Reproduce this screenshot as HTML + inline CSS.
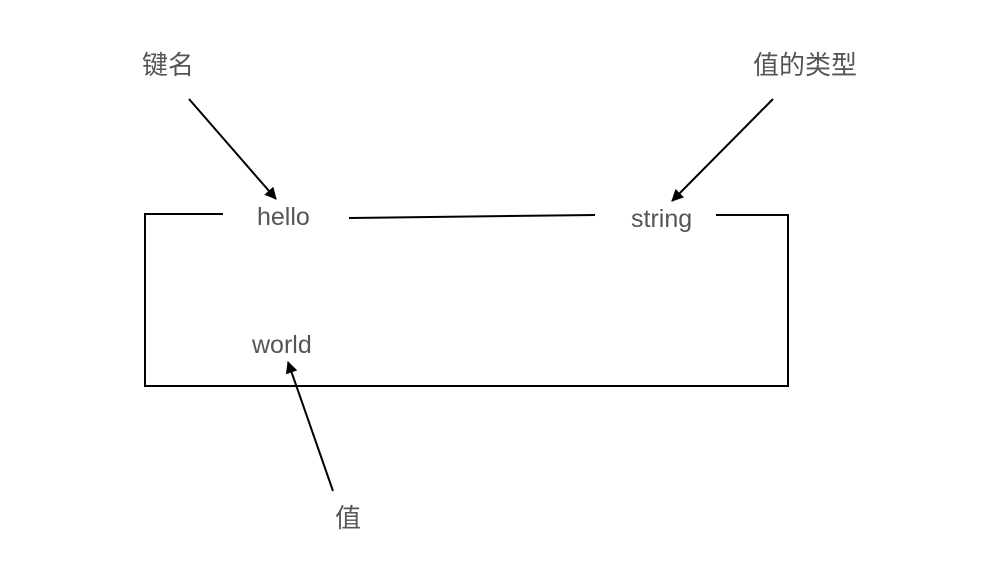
<!DOCTYPE html>
<html><head><meta charset="utf-8"><style>
html,body{margin:0;padding:0;background:#fff;width:1000px;height:572px;overflow:hidden}
svg text{font-family:"Liberation Sans","Noto Sans CJK SC",sans-serif;fill:#555;font-size:25px}
svg text.c{font-size:26px}
</style></head><body>
<svg width="1000" height="572" xmlns="http://www.w3.org/2000/svg">
<defs><marker id="a" markerWidth="12" markerHeight="12" refX="11" refY="6" orient="auto" markerUnits="userSpaceOnUse"><path d="M0,0 L12,6 L0,12 Z" fill="#000"/></marker></defs>
<g stroke="#000" stroke-width="2" fill="none">
<polyline points="223,214 145,214 145,386 788,386 788,215 716,215"/>
<line x1="349" y1="218" x2="595" y2="215"/>
<line x1="189" y1="99" x2="276" y2="199" marker-end="url(#a)"/>
<line x1="773" y1="99" x2="672" y2="201" marker-end="url(#a)"/>
<line x1="333" y1="491" x2="288" y2="362" marker-end="url(#a)"/>
</g>
<text class="c" x="142" y="74">键名</text>
<text class="c" x="753" y="74">值的类型</text>
<text x="257" y="225">hello</text>
<text x="631" y="227">string</text>
<text x="252" y="353">world</text>
<text class="c" x="335" y="527">值</text>
</svg>
</body></html>
